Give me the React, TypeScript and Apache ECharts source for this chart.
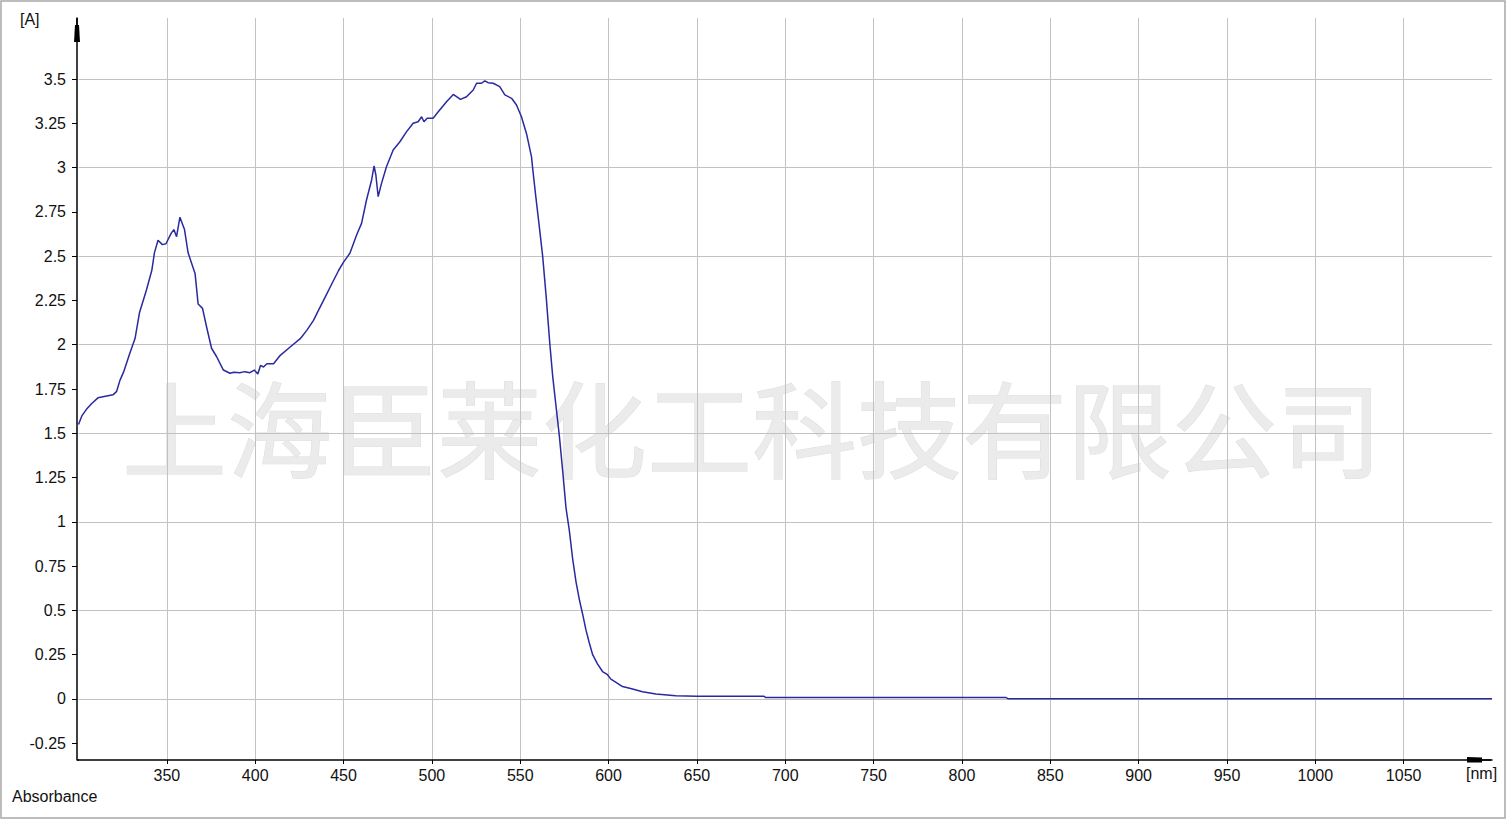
import React, { useEffect, useRef } from "react";
import * as echarts from "echarts";

// wavelength (nm)
const wavelengths: number[] = [
  300, 302, 304.5, 307.5, 311, 316, 319.5, 321.5, 323.5, 325.5, 329, 332, 334.5, 338.5, 341.5, 343, 345,
  347.5, 349.5, 352.5, 354, 355.5, 357.4, 360, 362, 366, 367.7, 370.2, 372.5, 375.3, 378.2, 382, 385.7,
  388, 391.3, 394, 397, 399.5, 401.5, 403, 404.7, 406.6, 410.4, 414.2, 419.8, 425.5, 429.2, 433, 435.8,
  439.6, 443.4, 447.2, 450, 453.6, 457.4, 460.2, 463, 465.9, 467.3, 468.3, 469.6, 471.5, 474.3, 478.1,
  481.9, 485.7, 489.4, 492.2, 494.2, 495.5, 497.3, 500.7, 503.6, 508.3, 512.1, 516.2, 519.6, 523.4,
  525.3, 528.1, 530, 531.8, 534.7, 538.4, 541.3, 545.1, 547.9, 550.7, 553.6, 556.4, 557, 559, 561,
  562.7, 564.7, 566.8, 568.4, 570.3, 572.2, 574.1, 575.9, 577.8, 579.7, 581.6, 583.5, 585.3, 587.2,
  589, 591, 593.8, 596.6, 599.4, 601.3, 604.2, 607.9, 613.6, 619.2, 626.8, 638, 650, 688, 689, 825,
  826, 1100,
];

// absorbance [A]
const absorbance: number[] = [
  1.55, 1.6, 1.635, 1.668, 1.7, 1.711, 1.717, 1.735, 1.8, 1.845, 1.95, 2.035, 2.18, 2.31, 2.42, 2.52, 2.59,
  2.565, 2.57, 2.63, 2.65, 2.61, 2.72, 2.65, 2.52, 2.4, 2.23, 2.205, 2.1, 1.98, 1.932, 1.857, 1.839,
  1.845, 1.842, 1.848, 1.842, 1.857, 1.835, 1.883, 1.874, 1.893, 1.893, 1.94, 1.987, 2.034, 2.081, 2.137,
  2.194, 2.269, 2.344, 2.419, 2.466, 2.516, 2.619, 2.685, 2.817, 2.93, 3.009, 2.958, 2.836, 2.911, 3.005,
  3.099, 3.146, 3.203, 3.25, 3.259, 3.287, 3.259, 3.278, 3.278, 3.315, 3.372, 3.413, 3.385, 3.4, 3.438,
  3.476, 3.476, 3.49, 3.479, 3.476, 3.457, 3.41, 3.391, 3.353, 3.287, 3.19, 3.06, 3.0, 2.82, 2.65,
  2.5, 2.27, 2.0, 1.82, 1.65, 1.48, 1.28, 1.08, 0.95, 0.79, 0.66, 0.56, 0.48, 0.39,
  0.32, 0.25, 0.197, 0.155, 0.137, 0.112, 0.094, 0.07, 0.056, 0.041, 0.028, 0.019, 0.015, 0.015, 0.008, 0.008,
  0.002, 0.002,
];

const yTickLabels: number[] = [-0.25, 0, 0.25, 0.5, 0.75, 1, 1.25, 1.5, 1.75, 2, 2.25, 2.5, 2.75, 3, 3.25, 3.5];
const yGridValues: number[] = [0, 0.5, 1, 1.5, 2, 2.5, 3, 3.5];

const X_MIN = 300;
const X_MAX = 1100;
const X_STEP = 50;
const Y_MIN = -0.3444;
const Y_MAX = 3.8444;

const FONT = "'Liberation Sans', Arial, sans-serif";
const WATERMARK = "上海臣莱化工科技有限公司";

export default function App() {
  const ref = useRef<HTMLDivElement>(null);

  useEffect(() => {
    if (!ref.current) return;
    const chart = echarts.init(ref.current, undefined, { renderer: "svg" });
    const data = wavelengths.map((w, i) => [w, absorbance[i]]);

    chart.setOption({
      animation: false,
      backgroundColor: "#ffffff",
      grid: { left: 78.5, right: 17, top: 18, bottom: 62, containLabel: false },
      xAxis: {
        type: "value",
        min: X_MIN,
        max: X_MAX,
        interval: X_STEP,
        axisLine: { show: true, onZero: false, lineStyle: { color: "#000000", width: 1.5 } },
        axisTick: { show: true, length: 4, lineStyle: { color: "#000000", width: 1 } },
        axisLabel: {
          show: true,
          color: "#111111",
          fontSize: 16,
          fontFamily: FONT,
          margin: 7,
          showMinLabel: false,
          showMaxLabel: false,
          formatter: (v: number) => String(v),
        },
        splitLine: {
          show: true,
          showMinLine: false,
          showMaxLine: false,
          lineStyle: { color: "#c2c2c2", width: 1 },
        },
      },
      yAxis: {
        type: "value",
        min: Y_MIN,
        max: Y_MAX,
        offset: 1.5,
        axisLine: { show: true, onZero: false, lineStyle: { color: "#000000", width: 1.5 } },
        axisTick: {
          show: true,
          length: 5,
          customValues: yTickLabels,
          lineStyle: { color: "#000000", width: 1 },
        },
        axisLabel: {
          show: true,
          customValues: yTickLabels,
          color: "#111111",
          fontSize: 16,
          fontFamily: FONT,
          margin: 11,
          formatter: (v: number) => String(v),
        },
        splitLine: { show: false },
      },
      graphic: [
        {
          type: "text",
          z: -10,
          silent: true,
          x: 752,
          y: 424,
          style: {
            text: WATERMARK,
            fontSize: 105,
            fontFamily: "'Noto Sans CJK SC', sans-serif",
            fill: "#ebebeb",
            stroke: "#dcdcdc",
            lineWidth: 1,
            textAlign: "center",
            textVerticalAlign: "middle",
          },
        },
        {
          type: "rect",
          silent: true,
          shape: { x: 1, y: 1, width: 1504, height: 817 },
          style: { fill: "none", stroke: "#a8a8a8", lineWidth: 1.5 },
        },
        {
          type: "polygon",
          silent: true,
          shape: { points: [[75, 25], [79, 25], [80, 42], [74, 42]] },
          style: { fill: "#000000" },
        },
        {
          type: "line",
          silent: true,
          shape: { x1: 77, y1: 18, x2: 77, y2: 26 },
          style: { stroke: "#000000", lineWidth: 1.5 },
        },
        {
          type: "line",
          silent: true,
          shape: { x1: 77, y1: 760, x2: 79, y2: 760 },
          style: { stroke: "#000000", lineWidth: 1.5 },
        },
        {
          type: "polygon",
          silent: true,
          shape: { points: [[1467, 757], [1482, 757.5], [1482, 762.5], [1467, 762.5]] },
          style: { fill: "#000000" },
        },
        {
          type: "line",
          silent: true,
          shape: { x1: 1482, y1: 760, x2: 1491, y2: 760 },
          style: { stroke: "#000000", lineWidth: 1.5 },
        },
        {
          type: "text",
          x: 20,
          y: 11,
          style: { text: "[A]", fontSize: 16, fontFamily: FONT, fill: "#111111", textVerticalAlign: "top" },
        },
        {
          type: "text",
          x: 1466,
          y: 765,
          style: { text: "[nm]", fontSize: 16, fontFamily: FONT, fill: "#111111", textVerticalAlign: "top" },
        },
        {
          type: "text",
          x: 12,
          y: 788,
          style: { text: "Absorbance", fontSize: 16, fontFamily: FONT, fill: "#111111", textVerticalAlign: "top" },
        },
      ],
      series: [
        {
          type: "line",
          data,
          showSymbol: false,
          symbol: "none",
          z: 5,
          lineStyle: { color: "#2a2aa0", width: 1.5 },
          markLine: {
            silent: true,
            symbol: "none",
            animation: false,
            label: { show: false },
            lineStyle: { color: "#c2c2c2", width: 1, type: "solid" },
            emphasis: { disabled: true },
            data: yGridValues.map((v) => ({ yAxis: v })),
          },
        },
      ],
    });

    return () => chart.dispose();
  }, []);

  return (
    <div
      ref={ref}
      style={{ position: "absolute", left: 0, top: 0, width: 1509, height: 822, background: "#ffffff" }}
    />
  );
}
